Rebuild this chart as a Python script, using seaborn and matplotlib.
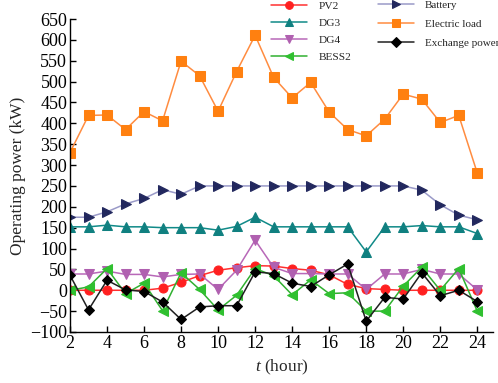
import numpy as np
import pandas as pd
import matplotlib
matplotlib.use("Agg")
import matplotlib.pyplot as plt
import seaborn as sns

hours = list(range(2, 25))
pv2 = [0, 0, 0, 0, 0, 5, 19, 35, 48, 54, 59, 58, 52, 48, 37, 14, 4, 2, 0, 0, 0, 0, 0]
dg3 = [152, 152, 156, 152, 152, 150, 150, 150, 144, 153, 175, 152, 152, 152, 152, 152, 92, 152, 152, 155, 152, 152, 136]
dg4 = [39, 39, 46, 38, 38, 32, 38, 39, 2, 48, 120, 55, 40, 40, 39, 39, 2, 39, 39, 50, 39, 39, 1]
bess2 = [0, 8, 52, -8, 17, -49, 42, 2, -47, -12, 52, 35, -11, 25, -8, -6, -50, -50, 10, 55, 0, 52, -50]
battery = [175, 175, 188, 207, 220, 241, 230, 250, 250, 250, 250, 250, 250, 250, 250, 250, 250, 250, 250, 240, 205, 180, 169]
load = [330, 419, 420, 385, 428, 406, 549, 514, 429, 524, 611, 510, 461, 498, 427, 385, 370, 410, 470, 458, 402, 419, 281]
exchange = [36, -47, 24, 1, -3, -28, -70, -40, -37, -37, 44, 40, 17, 9, 37, 63, -74, -17, -21, 42, -13, 0, -27]

yticks = list(range(-100, 651, 50))
xticks = list(range(2, 25, 2))

sns.set_style("ticks")
plt.rcParams['font.family'] = ['Liberation Serif', 'DejaVu Serif']
plt.rcParams['mathtext.fontset'] = 'custom'
plt.rcParams['mathtext.it'] = 'Liberation Serif:italic'
plt.rcParams['mathtext.rm'] = 'Liberation Serif'

fig = plt.figure(figsize=(4.98, 3.83), dpi=100)
ax = fig.add_axes([70/498, 1-332/383, (493-70)/498, (332-19)/383])

series = [
    ("PV2", pv2, dict(color="#ff3030", marker="o", mfc="#ff2020", mec="#ff2020")),
    ("DG3", dg3, dict(color="#108a88", marker="^", mfc="#108080", mec="#108080")),
    ("DG4", dg4, dict(color="#b868b8", marker="v", mfc="#b060b0", mec="#b060b0")),
    ("BESS2", bess2, dict(color="#30b030", marker="<", mfc="#30c030", mec="#30c030")),
    ("Battery", battery, dict(color="#9a9ac8", marker=">", mfc="#22285e", mec="#22285e")),
    ("Electric load", load, dict(color="#ff8c40", marker="s", mfc="#ff8010", mec="#ff8010")),
    ("Exchange power", exchange, dict(color="#202020", marker="D", mfc="#000000", mec="#000000")),
]

handles = {}
for name, vals, st in series:
    df = pd.DataFrame({"t": hours, "v": vals})
    ms = 5.5 if st["marker"] == "D" else 6.5
    sns.lineplot(data=df, x="t", y="v", ax=ax, color=st["color"], marker=st["marker"],
                 markersize=ms, markerfacecolor=st["mfc"], markeredgecolor=st["mec"],
                 linewidth=1.1, label=name, legend=False)
    handles[name] = ax.lines[-1]

ax.set_xlim(2, 24.85)
ax.set_ylim(-100, 650)
ax.set_xticks(xticks)
ax.set_yticks(yticks)
ax.set_yticklabels([str(v).replace("-", "\u2212") for v in yticks])
ax.tick_params(direction="in", length=4, width=1, labelsize=13, colors="black", pad=2)
for s in ["top", "right"]:
    ax.spines[s].set_visible(False)
for s in ["left", "bottom"]:
    ax.spines[s].set_color("black")
    ax.spines[s].set_linewidth(1)

ax.set_xlabel("$t$ (hour)", fontsize=12.5, labelpad=4)
ax.set_ylabel("Operating power (kW)", fontsize=12.5, labelpad=3)

leg1 = fig.legend([handles[n] for n in ["PV2", "DG3", "DG4", "BESS2"]],
                  ["PV2", "DG3", "DG4", "BESS2"],
                  loc="upper left", bbox_to_anchor=(270/498, 1.0), frameon=False,
                  fontsize=8.2, handlelength=3.2, handletextpad=1.0, labelspacing=0.62,
                  borderpad=0.05, borderaxespad=0, markerscale=0.85)
leg2 = fig.legend([handles[n] for n in ["Battery", "Electric load", "Exchange power"]],
                  ["Battery", "Electric load", "Exchange power"],
                  loc="upper left", bbox_to_anchor=(378/498, 1.0), frameon=False,
                  fontsize=8.0, handlelength=3.2, handletextpad=1.0, labelspacing=0.85,
                  borderpad=0.0, borderaxespad=0, markerscale=0.85)

fig.savefig("out.png", dpi=100)
